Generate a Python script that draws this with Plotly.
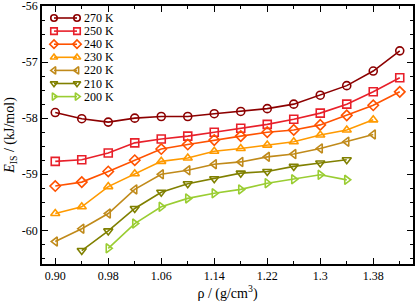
import plotly.graph_objects as go

rho = [0.90, 0.94, 0.98, 1.02, 1.06, 1.10, 1.14, 1.18, 1.22, 1.26, 1.30, 1.34, 1.38, 1.42]

temps = ["270 K", "250 K", "240 K", "230 K", "220 K", "210 K", "200 K"]

e_270 = [-57.90, -58.01, -58.07, -58.00, -57.97, -57.97, -57.92, -57.88, -57.83, -57.75, -57.59, -57.42, -57.16, -56.80]
e_250 = [-58.77, -58.74, -58.62, -58.44, -58.37, -58.32, -58.25, -58.18, -58.11, -58.02, -57.91, -57.75, -57.53, -57.28]
e_240 = [-59.21, -59.14, -58.95, -58.75, -58.55, -58.47, -58.39, -58.32, -58.25, -58.21, -58.12, -57.95, -57.77, -57.53]
e_230 = [-59.70, -59.58, -59.22, -58.99, -58.77, -58.71, -58.59, -58.54, -58.48, -58.42, -58.30, -58.21, -58.03]
e_220 = [-60.20, -59.97, -59.70, -59.27, -59.00, -58.93, -58.82, -58.78, -58.69, -58.64, -58.54, -58.42, -58.29]
e_210 = [-60.36, -60.01, -59.61, -59.32, -59.17, -59.08, -58.98, -58.95, -58.86, -58.80, -58.74]
e_200 = [-60.32, -59.88, -59.58, -59.43, -59.34, -59.27, -59.16, -59.09, -59.01, -59.10]

start_idx = [0, 0, 0, 0, 0, 1, 2]
series = [e_270, e_250, e_240, e_230, e_220, e_210, e_200]

colors = ["#8c0000", "#e8202a", "#ff5200", "#ff9a00", "#c08a1a", "#808000", "#9acd32"]
symbols = ["circle-open", "square-open", "diamond-open", "triangle-up-open",
           "triangle-left-open", "triangle-down-open", "triangle-right-open"]

x_tickvals = [0.90, 0.98, 1.06, 1.14, 1.22, 1.30, 1.38]
x_ticktext = ["0.90", "0.98", "1.06", "1.14", "1.22", "1.3", "1.38"]
y_tickvals = [-60, -59, -58, -57, -56]
y_ticktext = ["-60", "-59", "-58", "-57", "-56"]

FONT = "Liberation Serif"

fig = go.Figure()
for name, ys, s0, c, sym in zip(temps, series, start_idx, colors, symbols):
    xs = rho[s0:s0 + len(ys)]
    fig.add_trace(go.Scatter(
        x=xs, y=ys, mode="lines+markers", name=name,
        line=dict(color=c, width=1.6),
        marker=dict(symbol=sym, size=8, color=c, line=dict(color=c, width=1.6)),
        showlegend=False,
    ))

# custom compact legend drawn on an overlay axis in plot-pixel units
L_X0, L_X1, L_Y0, L_DY = 12, 35, 12, 13.1
for i, (name, c, sym) in enumerate(zip(temps, colors, symbols)):
    yy = L_Y0 + L_DY * i
    fig.add_trace(go.Scatter(
        x=[L_X0, L_X1], y=[yy, yy], xaxis="x2", yaxis="y2",
        mode="lines+markers", showlegend=False, hoverinfo="skip",
        line=dict(color=c, width=1.6),
        marker=dict(symbol=sym, size=6.5, color=c, line=dict(color=c, width=1.6)),
    ))
    fig.add_annotation(x=L_X1 + 5, y=yy, xref="x2", yref="y2", text=name,
                       showarrow=False, xanchor="left", yanchor="middle",
                       font=dict(family=FONT, size=12, color="black"))

axis_common = dict(showline=True, linecolor="black", linewidth=1.5, mirror="ticks",
                   ticks="inside", ticklen=6, tickwidth=1.3, tickcolor="black",
                   showgrid=False, zeroline=False, ticklabeloverflow="allow",
                   tickfont=dict(family=FONT, size=12, color="black"))

fig.update_layout(
    width=415, height=303,
    margin=dict(l=42, r=2, t=6, b=39, autoexpand=False),
    paper_bgcolor="white", plot_bgcolor="white",
    xaxis=dict(range=[0.88, 1.44], tickvals=x_tickvals, ticktext=x_ticktext,
               minor=dict(ticks="inside", dtick=0.04, tick0=0.90, ticklen=3, tickwidth=1.2, tickcolor="black"),
               title=dict(text="ρ / (g/cm<sup>3</sup>)", font=dict(family=FONT, size=14, color="black"), standoff=4),
               **axis_common),
    yaxis=dict(range=[-60.6, -56], tickvals=y_tickvals, ticktext=y_ticktext,
               minor=dict(ticks="inside", dtick=0.25, tick0=-60, ticklen=3, tickwidth=1.2, tickcolor="black"),
               title=dict(text="<i>E</i><sub>IS</sub> / (kJ/mol)", font=dict(family=FONT, size=14, color="black"), standoff=4),
               **axis_common),
    xaxis2=dict(overlaying="x", range=[0, 371], visible=False, fixedrange=True),
    yaxis2=dict(overlaying="y", range=[258, 0], visible=False, fixedrange=True),
)

fig.write_html("out.html", config={"displayModeBar": False},
               post_script="document.body.style.margin='0';document.body.style.overflow='hidden';")
